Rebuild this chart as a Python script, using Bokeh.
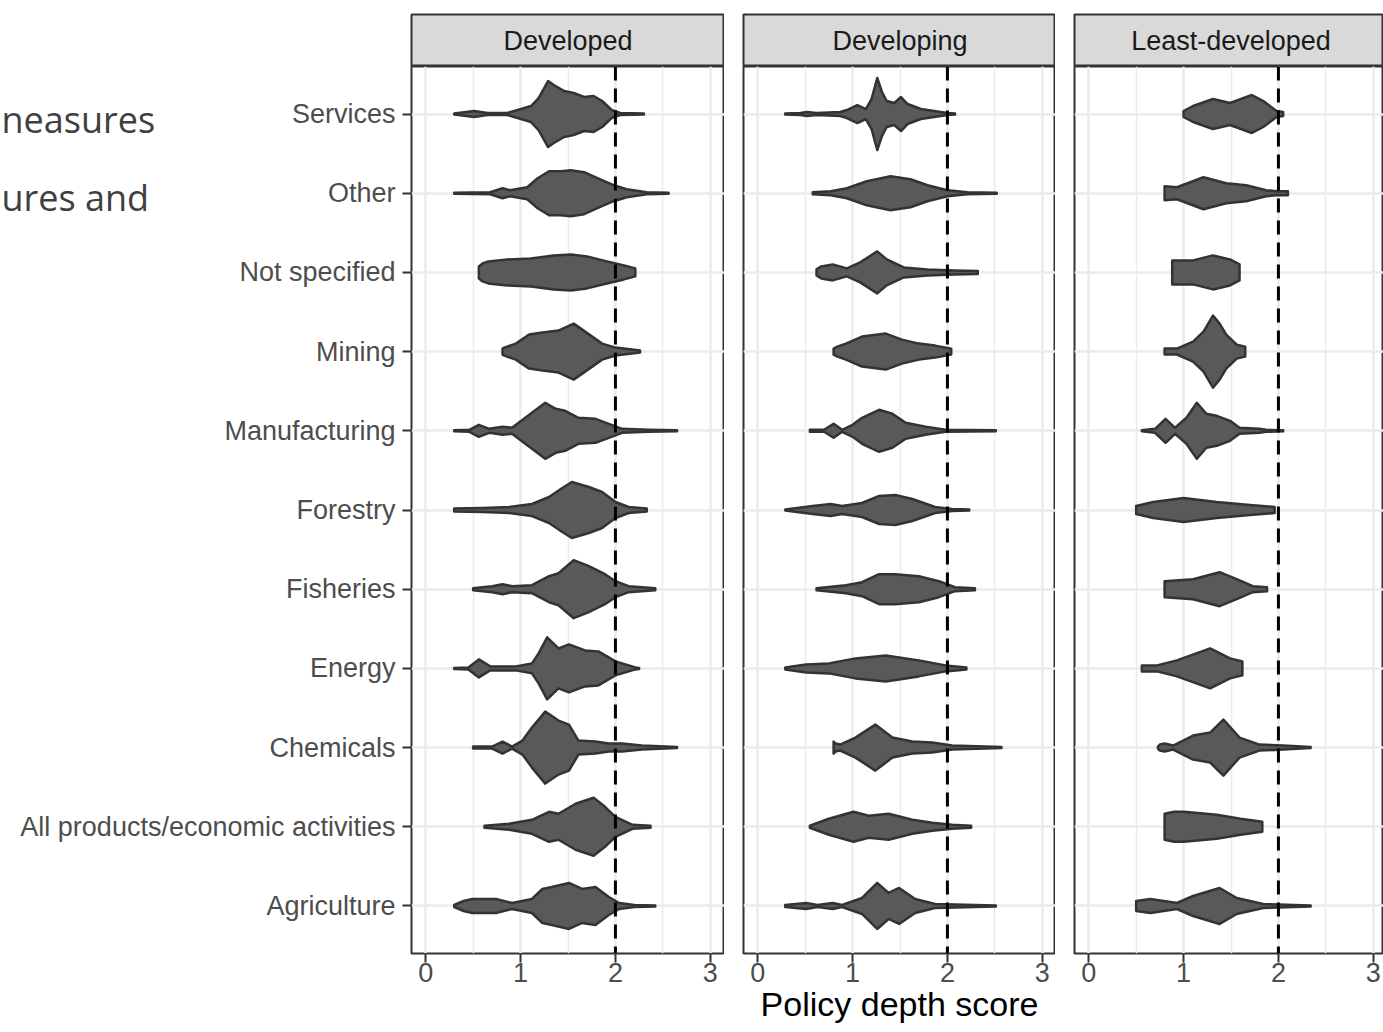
from bokeh.plotting import figure
from bokeh.models import ColumnDataSource, FixedTicker, LinearAxis, Grid, Span, Range1d, GridBox
from bokeh.layouts import column
from bokeh.embed import file_html
from bokeh.resources import INLINE
from bokeh.core.properties import value

# ---------------- data ----------------
CATEGORIES = ["Agriculture", "All products/economic activities", "Chemicals", "Energy",
              "Fisheries", "Forestry", "Manufacturing", "Mining", "Not specified",
              "Other", "Services"]          # bottom -> top
GROUPS = ["Developed", "Developing", "Least-developed"]
X_TICKS = [0, 1, 2, 3]
X_MINOR = [0.5, 1.5, 2.5]
X_LIMITS = [0, 3]
THRESHOLD = 2
X_TITLE = "Policy depth score"
SLIDE_TEXT = ["neasures", "ures and"]

# violin profiles: (score, half-width of density as read, px)
DEV_AGRICULTURE = [(0.30,1),(0.40,5),(0.49,7),(0.74,7),(0.91,3),(1.12,7),(1.23,17),(1.33,19),(1.51,23),(1.65,17),(1.79,19),(1.93,9),(2.04,3),(2.20,1),(2.42,0.5)]
DEV_ALLPRODUCTS = [(0.62,1),(0.88,3),(1.12,7),(1.30,15),(1.40,13),(1.58,23),(1.77,29),(1.89,20),(2.00,10),(2.18,2),(2.37,1)]
DEV_CHEMICALS = [(0.50,1),(0.70,1),(0.81,6),(0.91,1),(1.02,7),(1.12,20),(1.26,36),(1.40,27),(1.51,23),(1.61,7),(1.79,6),(1.93,4),(2.07,4),(2.28,2),(2.65,0.5)]
DEV_ENERGY = [(0.30,0.5),(0.45,1),(0.56,9),(0.68,2),(0.95,2),(1.12,5),(1.19,15),(1.28,31),(1.40,20),(1.51,24),(1.68,18),(1.82,17),(2.00,7),(2.21,1),(2.25,0.5)]
DEV_FISHERIES = [(0.50,1),(0.70,3),(0.81,5),(0.91,3),(1.12,4),(1.30,13),(1.40,16),(1.56,29),(1.72,23),(1.89,15),(2.00,8),(2.14,3),(2.42,1)]
DEV_FORESTRY = [(0.30,1.5),(0.60,2),(0.88,3),(1.12,6),(1.30,13),(1.44,22),(1.54,28),(1.72,23),(1.86,18),(2.00,8),(2.14,3),(2.33,1.5)]
DEV_MANUFACTURING = [(0.30,0.5),(0.46,1),(0.56,6),(0.67,2),(0.81,4),(0.91,3),(1.05,13),(1.26,28),(1.37,22),(1.47,20),(1.61,13),(1.79,12),(1.93,7),(2.07,2),(2.35,1),(2.65,0.5)]
DEV_MINING = [(0.81,3),(0.83,4),(0.95,8),(1.09,17),(1.23,19),(1.40,21),(1.56,28),(1.68,20),(1.86,8),(2.00,4),(2.26,1)]
DEV_NOTSPECIFIED = [(0.56,6),(0.60,9),(0.66,11),(0.86,13),(1.11,14),(1.35,17),(1.53,18),(1.70,16),(1.91,11),(2.09,7),(2.21,4)]
DEV_OTHER = [(0.30,0.5),(0.68,1),(0.81,5),(0.89,3),(1.07,6),(1.18,15),(1.30,22),(1.42,22),(1.53,23),(1.67,21),(1.81,15),(1.98,8),(2.12,4),(2.33,1),(2.56,0.5)]
DEV_SERVICES = [(0.30,0.5),(0.51,3),(0.65,1),(0.86,1),(0.97,4),(1.11,8),(1.19,16),(1.29,33),(1.35,29),(1.46,23),(1.56,21),(1.67,17),(1.77,18),(1.86,13),(1.96,4),(2.05,1),(2.30,0.5)]

DVP_AGRICULTURE = [(0.29,1),(0.40,2),(0.51,3),(0.63,1),(0.79,3),(0.89,1),(1.10,8),(1.26,23),(1.38,13),(1.49,18),(1.66,7),(1.87,2),(2.51,0.5)]
DVP_ALLPRODUCTS = [(0.55,1),(0.75,8),(1.01,15),(1.17,11),(1.38,13),(1.63,7),(1.84,4),(2.05,2),(2.25,1)]
DVP_CHEMICALS = [(0.80,6),(0.82,4),(0.87,3),(1.03,10),(1.24,23),(1.42,10),(1.63,6),(1.84,5),(2.05,2),(2.57,0.5)]
DVP_ENERGY = [(0.29,1),(0.51,4),(0.75,5),(1.03,10),(1.35,13),(1.70,8),(1.98,3),(2.20,1)]
DVP_FISHERIES = [(0.62,1),(0.93,4),(1.10,7),(1.28,15),(1.45,15),(1.70,13),(1.91,8),(2.08,2),(2.29,1)]
DVP_FORESTRY = [(0.29,0.5),(0.58,4),(0.77,6),(0.89,4),(1.10,7),(1.28,14),(1.45,15),(1.63,11),(1.87,3),(2.05,1),(2.23,0.5)]
DVP_MANUFACTURING = [(0.55,1),(0.70,1),(0.80,7),(0.89,1),(1.00,6),(1.10,13),(1.28,21),(1.42,17),(1.56,8),(1.77,4),(1.98,1),(2.51,0.5)]
DVP_MINING = [(0.80,3),(0.84,5),(0.93,8),(1.10,15),(1.35,18),(1.52,12),(1.70,8),(1.87,6),(2.04,3)]
DVP_NOTSPECIFIED = [(0.62,3),(0.67,6),(0.79,8),(0.94,4),(1.08,10),(1.26,21),(1.36,13),(1.54,5),(1.79,3),(2.07,2),(2.32,1.5)]
DVP_OTHER = [(0.58,1),(0.77,2),(0.94,5),(1.15,12),(1.40,17),(1.61,14),(1.79,8),(2.00,3),(2.21,1),(2.52,0.5)]
DVP_SERVICES = [(0.29,0.5),(0.45,1),(0.52,2),(0.62,1),(0.87,2),(0.94,4),(1.05,9),(1.14,5),(1.20,15),(1.26,36),(1.31,22),(1.36,13),(1.44,11),(1.51,17),(1.58,10),(1.72,5),(1.86,3),(2.00,1),(2.08,0.5)]

LDC_AGRICULTURE = [(0.50,5),(0.65,7),(0.93,3),(1.10,10),(1.38,18),(1.56,8),(1.84,2),(2.34,0.5)]
LDC_ALLPRODUCTS = [(0.80,13),(0.90,15),(1.00,15),(1.35,12),(1.60,8),(1.83,5)]
LDC_CHEMICALS = [(0.73,1),(0.75,3),(0.80,4),(0.89,2),(1.10,12),(1.28,15),(1.42,28),(1.59,10),(1.80,3),(2.05,2),(2.34,0.5)]
LDC_ENERGY = [(0.56,3),(0.72,3),(0.93,8),(1.28,20),(1.49,10),(1.62,7)]
LDC_FISHERIES = [(0.80,8),(1.10,10),(1.38,17),(1.56,10),(1.73,3),(1.88,2)]
LDC_FORESTRY = [(0.50,4),(0.68,8),(1.00,12),(1.35,8),(1.70,5),(1.96,3)]
LDC_MANUFACTURING = [(0.56,0.5),(0.70,2),(0.81,12),(0.91,3),(1.03,13),(1.14,28),(1.24,17),(1.35,15),(1.49,10),(1.59,3),(1.80,2),(1.87,1),(2.05,0.5)]
LDC_MINING = [(0.80,3),(0.93,3),(1.10,10),(1.21,20),(1.31,36),(1.38,28),(1.45,17),(1.56,7),(1.65,5)]
LDC_NOTSPECIFIED = [(0.88,12),(1.10,12),(1.31,17),(1.49,13),(1.59,8)]
LDC_OTHER = [(0.80,7),(0.93,6),(1.21,16),(1.45,10),(1.66,8),(1.87,3),(1.98,2),(2.10,2)]
LDC_SERVICES = [(1.00,3),(1.10,8),(1.31,15),(1.49,11),(1.72,19),(1.84,13),(1.98,3),(2.05,2)]

PROFILES = [
    [DEV_AGRICULTURE, DEV_ALLPRODUCTS, DEV_CHEMICALS, DEV_ENERGY, DEV_FISHERIES, DEV_FORESTRY,
     DEV_MANUFACTURING, DEV_MINING, DEV_NOTSPECIFIED, DEV_OTHER, DEV_SERVICES],
    [DVP_AGRICULTURE, DVP_ALLPRODUCTS, DVP_CHEMICALS, DVP_ENERGY, DVP_FISHERIES, DVP_FORESTRY,
     DVP_MANUFACTURING, DVP_MINING, DVP_NOTSPECIFIED, DVP_OTHER, DVP_SERVICES],
    [LDC_AGRICULTURE, LDC_ALLPRODUCTS, LDC_CHEMICALS, LDC_ENERGY, LDC_FISHERIES, LDC_FORESTRY,
     LDC_MANUFACTURING, LDC_MINING, LDC_NOTSPECIFIED, LDC_OTHER, LDC_SERVICES],
]

# ---------------- layout / style ----------------
FONT = "Liberation Sans"
TOP_PAD = 14
STRIP_H = 52
FRAME_H = 887
BOTTOM = 79
LEFTS = [411, 19, 19]
FRAME_W = [313, 312, 309]
FULL_W = 313
PX_PER_CAT = FRAME_H / 11.2
X_PAD = 0.05 * (X_LIMITS[1] - X_LIMITS[0])
X_START = X_LIMITS[0] - X_PAD
X_SPAN = (X_LIMITS[1] - X_LIMITS[0]) + 2 * X_PAD
Y_RANGE = (0.4, len(CATEGORIES) + 0.6)

GRID_C = "#ebebeb"
DARK = "#333333"
AXIS_TXT = "#4d4d4d"


def make_strip(i, xr):
    s = figure(width=LEFTS[i] + FRAME_W[i], height=TOP_PAD + STRIP_H, x_range=xr,
               y_range=Range1d(0, 1), x_axis_location=None, y_axis_location=None,
               min_border_left=LEFTS[i], min_border_right=0, min_border_top=TOP_PAD,
               min_border_bottom=0, output_backend="svg", toolbar_location=None)
    s.grid.grid_line_color = None
    s.background_fill_color = "#d9d9d9"
    s.border_fill_color = "white"
    s.outline_line_color = DARK
    s.outline_line_width = 2
    s.text(x=[sum(X_LIMITS) / 2], y=[0.5], text=[GROUPS[i]], text_align="center",
           text_baseline="middle", text_font=value(FONT), text_font_size="27px",
           text_color="#1a1a1a")
    return s


def make_panel(i, xr):
    p = figure(width=LEFTS[i] + FRAME_W[i], height=FRAME_H + BOTTOM, x_range=xr,
               y_range=Range1d(*Y_RANGE), y_axis_location=None,
               min_border_left=LEFTS[i], min_border_right=0, min_border_top=0,
               min_border_bottom=BOTTOM, output_backend="svg", toolbar_location=None)
    p.background_fill_color = "white"
    p.border_fill_color = "white"
    p.outline_line_color = DARK
    p.outline_line_width = 2

    xt = FixedTicker(ticks=X_TICKS, minor_ticks=X_MINOR)
    ax = p.xaxis[0]
    ax.ticker = xt
    ax.axis_line_color = None
    ax.major_tick_out = 9
    ax.major_tick_in = 0
    ax.major_tick_line_color = DARK
    ax.major_tick_line_width = 2
    ax.minor_tick_line_color = None
    ax.major_label_standoff = 0
    ax.major_label_text_font = FONT
    ax.major_label_text_font_size = "27px"
    ax.major_label_text_color = AXIS_TXT
    if i == 1:
        ax.axis_label = X_TITLE
        ax.axis_label_standoff = 0
        ax.axis_label_text_font = FONT
        ax.axis_label_text_font_size = "34px"
        ax.axis_label_text_font_style = "normal"
        ax.axis_label_text_color = "black"

    g = p.xgrid[0]
    g.ticker = xt
    g.grid_line_color = GRID_C
    g.grid_line_width = 2.5
    g.minor_grid_line_color = GRID_C
    g.minor_grid_line_width = 1.5

    yt = FixedTicker(ticks=list(range(1, len(CATEGORIES) + 1)))
    p.add_layout(Grid(dimension=1, ticker=yt, grid_line_color=GRID_C, grid_line_width=2.5))

    if i == 0:
        yax = LinearAxis(ticker=yt,
                         major_label_overrides={k + 1: c for k, c in enumerate(CATEGORIES)},
                         axis_line_color=None, major_tick_out=9, major_tick_in=0,
                         major_tick_line_color=DARK, major_tick_line_width=2,
                         minor_tick_line_color=None, major_label_standoff=7,
                         major_label_text_font=FONT, major_label_text_font_size="27px",
                         major_label_text_color=AXIS_TXT)
        p.add_layout(yax, "left")

    xs, ys = [], []
    for k, prof in enumerate(PROFILES[i]):
        y0 = k + 1
        px = [a for a, _ in prof]
        w = [b / PX_PER_CAT for _, b in prof]
        xs.append(px + px[::-1])
        ys.append([y0 + v for v in w] + [y0 - v for v in w[::-1]])
    src = ColumnDataSource(dict(xs=xs, ys=ys))
    p.patches("xs", "ys", source=src, fill_color="#595959", line_color=DARK,
              line_width=2.5, line_join="round")

    p.add_layout(Span(location=THRESHOLD, dimension="height", line_color="black",
                      line_width=3, line_dash="14 8"))
    return p


# transparent overlay carrying the slide text that is cut at the left edge
SLIDE_W, SLIDE_H = 260, 260
slide = figure(width=SLIDE_W, height=SLIDE_H, x_range=Range1d(0, SLIDE_W),
               y_range=Range1d(SLIDE_H, 0), x_axis_location=None, y_axis_location=None,
               min_border=0, output_backend="svg", toolbar_location=None)
slide.grid.grid_line_color = None
slide.grid.visible = False
slide.background_fill_alpha = 0
slide.border_fill_alpha = 0
slide.outline_line_color = None
slide.text(x=[1, 1], y=[119, 197], text=SLIDE_TEXT, text_font=value("Open Sans"),
           text_font_size="36px", text_color="#404040", text_baseline="alphabetic",
           text_align="left")

children = []
for i in range(3):
    xr = Range1d(X_START, X_START + FRAME_W[i] * X_SPAN / FULL_W)
    s = make_strip(i, xr)
    p = make_panel(i, xr)
    children.append((column(s, p, spacing=0), 0, i))
children.append((slide, 0, 0))

layout = GridBox(children=children, spacing=0)
open("out.html", "w").write(file_html(layout, INLINE, title="Policy depth score"))
